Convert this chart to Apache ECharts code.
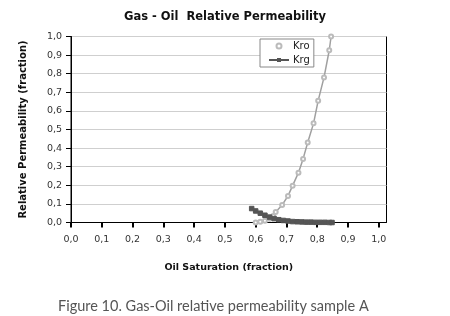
<!DOCTYPE html>
<html>
<head>
<meta charset="utf-8">
<script src="https://cdn.jsdelivr.net/npm/echarts@6/dist/echarts.min.js"></script>
<style>html,body{margin:0;padding:0;background:#fff}#c{width:450px;height:316px}</style>
</head>
<body>
<div id="c"></div>
<script>
// Data
var xTicks = [0, 0.1, 0.2, 0.3, 0.4, 0.5, 0.6, 0.7, 0.8, 0.9, 1.0];
var yTicks = [0, 0.1, 0.2, 0.3, 0.4, 0.5, 0.6, 0.7, 0.8, 0.9, 1.0];

var kroSo = [0.600, 0.615, 0.630, 0.645, 0.657, 0.665, 0.686, 0.705, 0.720, 0.739, 0.754, 0.769, 0.788, 0.803, 0.822, 0.839, 0.845];
var kro   = [0.000, 0.004, 0.010, 0.020, 0.035, 0.057, 0.094, 0.143, 0.198, 0.268, 0.342, 0.430, 0.533, 0.655, 0.780, 0.926, 1.000];

var krgSo = [0.587, 0.600, 0.615, 0.630, 0.645, 0.660, 0.675, 0.690, 0.705, 0.720, 0.735, 0.750, 0.765, 0.780, 0.795, 0.810, 0.825, 0.840, 0.848];
var krg   = [0.075, 0.062, 0.050, 0.039, 0.029, 0.021, 0.015, 0.011, 0.008, 0.005, 0.004, 0.003, 0.002, 0.002, 0.001, 0.001, 0.001, 0.000, 0.000];

var chartTitle = 'Gas - Oil  Relative Permeability';
var xTitle = 'Oil Saturation (fraction)';
var yTitle = 'Relative Permeability (fraction)';
var caption = 'Figure 10. Gas-Oil relative permeability sample A';

function pairs(xs, ys) { return xs.map(function (x, i) { return [x, ys[i]]; }); }
function fmt(v) { return v.toFixed(1).replace('.', ','); }

var chart = echarts.init(document.getElementById('c'), null, { renderer: 'canvas' });
chart.setOption({
  animation: false,
  backgroundColor: '#fff',
  textStyle: { fontFamily: 'DejaVu Sans' },
  title: [
    { text: chartTitle, left: 'center', top: 6,
      textStyle: { fontFamily: 'DejaVu Sans', fontWeight: 'bold', fontSize: 11.5, color: '#111' } },
    { text: caption, left: 53, top: 294,
      textStyle: { fontFamily: 'Lato', fontWeight: 'normal', fontSize: 14.5, color: '#555' } }
  ],
  grid: { left: 71, right: 63.5, top: 36.5, bottom: 93.5, show: true, borderColor: '#000', borderWidth: 1, containLabel: false },
  legend: {
    orient: 'vertical', left: 260, top: 39,
    padding: [2, 4, 2, 8], itemGap: 4, itemWidth: 20, itemHeight: 5,
    backgroundColor: '#fff', borderColor: '#888', borderWidth: 1,
    textStyle: { fontFamily: 'DejaVu Sans', fontSize: 10, color: '#222', padding: [0, 0, 0, -1] },
    data: [{ name: 'Kro', icon: 'emptyCircle' }, { name: 'Krg' }]
  },
  xAxis: {
    type: 'value', min: 0, max: 1.025,
    name: xTitle, nameLocation: 'middle', nameGap: 40,
    nameTextStyle: { fontFamily: 'DejaVu Sans', fontWeight: 'bold', fontSize: 9.5, color: '#111' },
    axisLine: { show: true, onZero: false, lineStyle: { color: '#000', width: 1 } },
    axisTick: { show: true, length: 5, inside: false, customValues: xTicks, lineStyle: { color: '#000', width: 2 } },
    axisLabel: { customValues: xTicks, margin: 12, fontSize: 9.5, color: '#333', formatter: fmt },
    splitLine: { show: false }
  },
  yAxis: {
    type: 'value', min: 0, max: 1, interval: 0.1,
    name: yTitle, nameLocation: 'middle', nameGap: 43,
    nameTextStyle: { fontFamily: 'DejaVu Sans', fontWeight: 'bold', fontSize: 10, color: '#111' },
    axisLine: { show: true, lineStyle: { color: '#000', width: 1 } },
    axisTick: { show: true, length: 5, inside: false, lineStyle: { color: '#000', width: 1 } },
    axisLabel: { margin: 9, fontSize: 9.5, color: '#333', formatter: fmt },
    splitLine: { show: true, lineStyle: { color: '#cfcfcf', width: 1 } }
  },
  series: [
    { name: 'Kro', type: 'line', data: pairs(kroSo, kro), smooth: false,
      symbol: 'emptyCircle', symbolSize: 4,
      lineStyle: { color: '#a0a0a0', width: 1.5 },
      itemStyle: { color: '#bbbbbb', borderColor: '#b0b0b0', borderWidth: 1 }, z: 2 },
    { name: 'Krg', type: 'line', data: pairs(krgSo, krg),
      symbol: 'rect', symbolSize: 4.5,
      lineStyle: { color: '#555', width: 1.5 },
      itemStyle: { color: '#555', borderColor: '#555' }, z: 3 }
  ]
});
</script>
</body>
</html>
